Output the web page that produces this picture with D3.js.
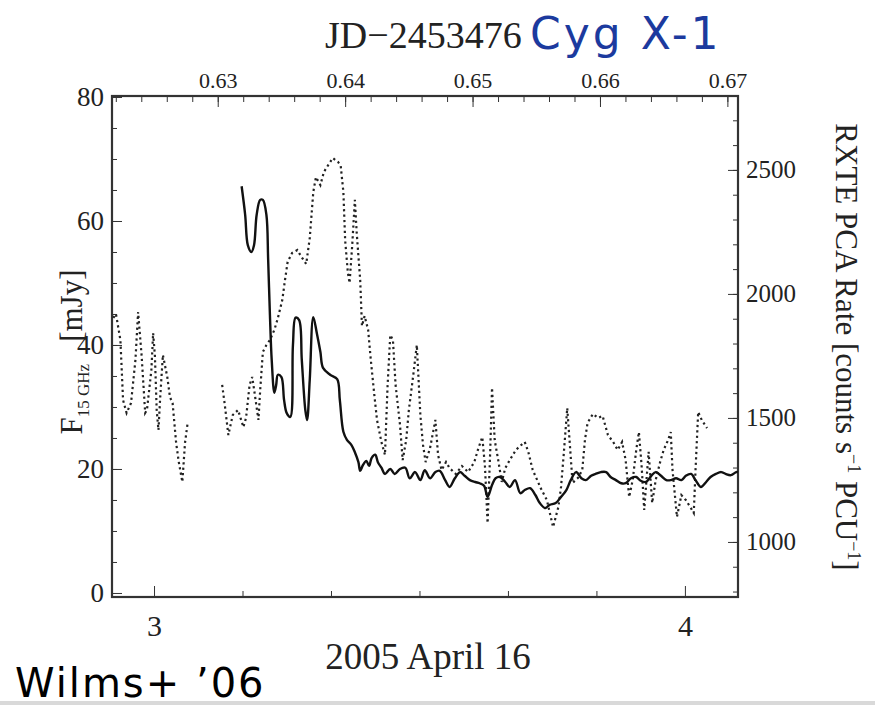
<!DOCTYPE html>
<meta charset="utf-8">
<title>Cyg X-1 radio / X-ray</title>
<style>
body { margin: 0; background: #fff; }
svg { display: block; background: #fff; }
.serif { font-family: "Liberation Serif", "Times New Roman", serif; fill: #222; }
.axis path, .axis line { stroke: #333; }
.axis text { font-family: "Liberation Serif", "Times New Roman", serif; fill: #222; }
</style>
<script src="https://cdnjs.cloudflare.com/ajax/libs/d3/7.8.5/d3.min.js"></script>
<body>
<script>

// 15 GHz radio flux: minutes after 03:00 UT, mJy
var radioT = [9.9,10.3,10.6,11.0,11.3,11.6,12.0,12.3,12.7,12.9,13.1,13.3,13.6,13.8,14.0,14.4,14.7,15.0,15.4,15.7,
  16.0,16.4,16.7,17.1,17.3,17.6,18.0,18.4,18.8,19.1,19.9,20.7,21.0,21.4,21.8,22.3,22.7,23.1,23.3,23.6,
  24.0,24.3,24.6,25.0,25.3,25.7,26.1,26.7,27.2,27.8,28.4,28.9,29.5,30.1,30.6,31.2,31.8,32.3,32.9,33.4,
  34.0,34.6,35.1,35.7,36.3,36.8,37.3,37.7,38.2,38.6,39.1,39.7,40.2,40.8,41.4,41.9,42.5,43.1,43.6,44.2,
  44.7,45.4,46.0,46.6,47.1,47.7,48.3,48.8,49.4,49.9,50.5,51.1,51.6,52.2,52.8,53.3,53.9,54.5,55.0,55.6,
  56.2,56.7,57.3,57.9,58.4,59.0,59.6,60.1,60.7,61.2,61.8,62.4,62.9,63.5,64.1,64.6,65.2,65.8,66.0];
var radioF = [65.6,61.0,56.1,55.0,56.1,61.0,63.4,63.4,61.0,53.7,44.8,37.6,32.3,33.5,35.2,34.8,31.1,29.0,28.4,40.0,
  44.4,44.0,37.6,29.5,27.9,34.4,44.5,41.9,38.9,36.3,35.2,34.5,31.1,26.0,24.7,23.9,22.7,21.1,19.7,20.6,
  21.3,20.5,21.8,22.3,21.1,20.2,19.2,20.0,19.2,20.0,20.2,18.5,19.5,18.2,19.8,18.5,19.5,19.7,18.2,17.1,
  18.5,19.5,18.9,18.2,17.9,17.7,17.3,15.5,17.4,18.5,18.7,17.9,17.1,18.2,16.1,16.6,16.9,15.8,14.5,13.7,
  14.2,14.5,15.5,16.6,18.2,19.5,18.5,18.2,18.9,19.2,19.5,19.5,18.7,18.2,17.7,17.7,18.5,18.7,18.1,17.9,
  18.9,19.5,18.9,18.2,18.2,18.5,18.2,18.9,19.2,18.2,17.1,17.9,18.7,19.2,19.5,19.2,19.0,19.5,19.5];

// RXTE PCA rate: minutes after 03:00 UT, counts/s/PCU (null = gap)
var xrayT = [-4.6,-4.3,-3.8,-3.5,-3.1,-2.6,-2.1,-1.8,-1.4,-1.0,-0.8,-0.3,-0.1,0.1,0.3,0.5,0.7,1.0,1.5,1.8,
  2.1,2.5,2.8,3.2,3.5,3.8,5.5,
  7.7,8.0,8.4,8.9,9.5,10.1,10.4,10.8,11.1,11.4,11.8,12.0,12.3,12.7,13.1,13.6,14.0,14.5,14.8,15.1,
  15.6,16.2,16.6,17.2,17.6,18.0,18.3,18.8,19.2,19.7,20.2,20.8,21.1,21.4,21.6,21.9,22.1,22.4,22.7,22.9,
  23.3,23.5,23.8,24.2,24.5,24.9,25.2,25.7,26.1,26.4,26.7,27.0,27.3,27.8,28.1,28.5,28.8,29.3,29.7,30.1,
  30.4,30.7,31.2,31.8,32.1,32.5,33.0,33.4,34.1,34.8,35.5,36.2,36.6,37.1,37.4,37.7,38.0,38.2,38.5,38.9,
  39.3,39.7,40.2,40.9,41.5,41.9,42.3,42.8,43.3,43.7,44.4,45.1,45.7,46.0,46.3,46.7,47.0,47.3,47.9,48.4,
  48.7,49.0,49.6,50.2,50.7,51.3,51.9,52.4,52.9,53.3,53.7,54.1,54.5,54.8,55.1,55.4,55.7,55.9,56.3,56.7,
  57.2,57.6,58.1,58.4,58.6,59.1,59.6,60.1,60.6,61.0,61.2,61.5,61.9,62.5];
var xrayR = [1903,1919,1814,1572,1520,1560,1734,1927,1750,1520,1532,1693,1842,1750,1532,1451,1584,1754,1665,1584,
  1560,1399,1322,1242,1399,1480,null,
  1633,1552,1431,1512,1532,1463,1500,1633,1665,1592,1492,1613,1766,1794,1814,1855,1903,1976,2056,2129,
  2165,2177,2153,2121,2225,2411,2471,2439,2492,2520,2548,2532,2516,2411,2217,2088,2044,2197,2379,2250,
  2056,1871,1911,1855,1734,1592,1492,1403,1351,1633,1834,1814,1633,1472,1330,1411,1532,1673,1794,1512,
  1391,1322,1379,1492,1351,1290,1322,1298,1274,1306,1282,1322,1371,1423,1306,1076,1371,1621,1411,1330,
  1242,1298,1330,1371,1391,1403,1363,1290,1250,1217,1169,1060,1141,1222,1351,1540,1391,1238,1258,1290,
  1411,1480,1516,1500,1508,1431,1403,1371,1403,1330,1181,1250,1371,1443,1310,1129,1270,1363,1157,1250,
  1322,1371,1411,1443,1290,1101,1189,1169,1141,1117,1290,1524,1492,1459];

// axis ticks
var utTicks = [0, 60];              // 3h, 4h UT
var utMinor = [10, 20, 30, 40, 50];
var jdTicks = [0.63, 0.64, 0.65, 0.66, 0.67];
var fluxTicks = [0, 20, 40, 60, 80];
var rateTicks = [1000, 1500, 2000, 2500];

var width = 875, height = 705;
var plotX = 112, plotY = 96, w = 626, h = 501;

var svg = d3.select("body").append("svg")
    .attr("width", width)
    .attr("height", height);

// strip of the slide at the bottom
svg.append("rect").attr("x", 0).attr("y", 701).attr("width", width).attr("height", 4).attr("fill", "#d9d9d9");

var x = d3.scaleLinear().domain([-4.75, 66.0]).range([0, w]);
var xJD = d3.scaleLinear().domain([0.625 - 4.75 / 1440, 0.625 + 66.0 / 1440]).range([0, w]);
var yL = d3.scaleLinear().domain([-0.65, 80.16]).range([h, 0]);
var yR = d3.scaleLinear().domain([778, 2798]).range([h, 0]);

var g = svg.append("g").attr("transform", "translate(" + plotX + "," + plotY + ")");

// minor ticks
function minor(axis, vals, size) {
  return axis.tickValues(vals).tickSizeInner(-size).tickSizeOuter(0).tickFormat("");
}
g.append("g").attr("class", "axis").attr("transform", "translate(0," + h + ")")
  .call(minor(d3.axisBottom(x), utMinor, 6));
g.append("g").attr("class", "axis")
  .call(minor(d3.axisTop(xJD), d3.range(0.622, 0.6705, 0.002), 6));
g.append("g").attr("class", "axis")
  .call(minor(d3.axisLeft(yL), d3.range(5, 80, 5), 5));
g.append("g").attr("class", "axis").attr("transform", "translate(" + w + ",0)")
  .call(minor(d3.axisRight(yR), d3.range(800, 2800, 100), 5));

// major ticks with labels
g.append("g").attr("class", "axis").attr("transform", "translate(0," + h + ")")
  .call(d3.axisBottom(x).tickValues(utTicks).tickSizeInner(-11).tickSizeOuter(0).tickPadding(18)
    .tickFormat(function(d) { return 3 + d / 60; }))
  .selectAll("text").style("font-size", "30px");
g.append("g").attr("class", "axis")
  .call(d3.axisTop(xJD).tickValues(jdTicks).tickSizeInner(-11).tickSizeOuter(0).tickPadding(8)
    .tickFormat(d3.format(".2f")))
  .selectAll("text").style("font-size", "22px");
g.append("g").attr("class", "axis")
  .call(d3.axisLeft(yL).tickValues(fluxTicks).tickSizeInner(-10).tickSizeOuter(0).tickPadding(8))
  .selectAll("text").style("font-size", "27px");
g.append("g").attr("class", "axis").attr("transform", "translate(" + w + ",0)")
  .call(d3.axisRight(yR).tickValues(rateTicks).tickSizeInner(-10).tickSizeOuter(0).tickPadding(8)
    .tickFormat(d3.format("d")))
  .selectAll("text").style("font-size", "25px");

// frame
g.append("rect").attr("width", w).attr("height", h)
  .attr("fill", "none").attr("stroke", "#333").attr("stroke-width", 2.2);

// data
var lineX = d3.line()
  .defined(function(d) { return d[1] != null; })
  .x(function(d) { return x(d[0]); })
  .y(function(d) { return yR(d[1]); });
var lineR = d3.line()
  .curve(d3.curveCatmullRom)
  .x(function(d) { return x(d[0]); })
  .y(function(d) { return yL(d[1]); });

g.append("path")
  .datum(d3.zip(xrayT, xrayR))
  .attr("d", lineX)
  .attr("fill", "none")
  .attr("stroke", "#222")
  .attr("stroke-width", 2.2)
  .attr("stroke-dasharray", "2.2,3.2");

g.append("path")
  .datum(d3.zip(radioT, radioF))
  .attr("d", lineR)
  .attr("fill", "none")
  .attr("stroke", "#111")
  .attr("stroke-width", 2.4)
  .attr("stroke-linejoin", "round");

// titles
svg.append("text").attr("class", "serif")
  .attr("x", 325).attr("y", 48)
  .style("font-size", "38px")
  .text("JD\u22122453476");
svg.append("text")
  .attr("x", 530).attr("y", 49)
  .style("font-family", "DejaVu Sans, sans-serif")
  .style("font-size", "44px")
  .style("letter-spacing", "3px")
  .attr("fill", "#1c3a9e")
  .text("Cyg X-1");

svg.append("text").attr("class", "serif")
  .attr("x", 428).attr("y", 669)
  .attr("text-anchor", "middle")
  .style("font-size", "37px")
  .text("2005 April 16");

var lt = svg.append("text").attr("class", "serif")
  .attr("transform", "translate(82,352) rotate(-90)")
  .attr("text-anchor", "middle")
  .style("font-size", "31px");
lt.append("tspan").text("F");
lt.append("tspan").attr("dy", 7).style("font-size", "17px").text("15 GHz");
lt.append("tspan").attr("dy", -7).attr("dx", 22).text("[mJy]");

var rt = svg.append("text").attr("class", "serif")
  .attr("transform", "translate(836,347) rotate(90)")
  .attr("text-anchor", "middle")
  .style("font-size", "31px");
rt.append("tspan").text("RXTE PCA Rate [counts s");
rt.append("tspan").attr("dy", -12).style("font-size", "18px").text("\u22121");
rt.append("tspan").attr("dy", 12).text(" PCU");
rt.append("tspan").attr("dy", -12).style("font-size", "18px").text("\u22121");
rt.append("tspan").attr("dy", 12).text("]");

svg.append("text")
  .attr("x", 15).attr("y", 697)
  .style("font-family", "DejaVu Sans, sans-serif")
  .style("font-size", "40px")
  .style("letter-spacing", "2px")
  .attr("fill", "#000")
  .text("Wilms+ \u201906");

</script>
